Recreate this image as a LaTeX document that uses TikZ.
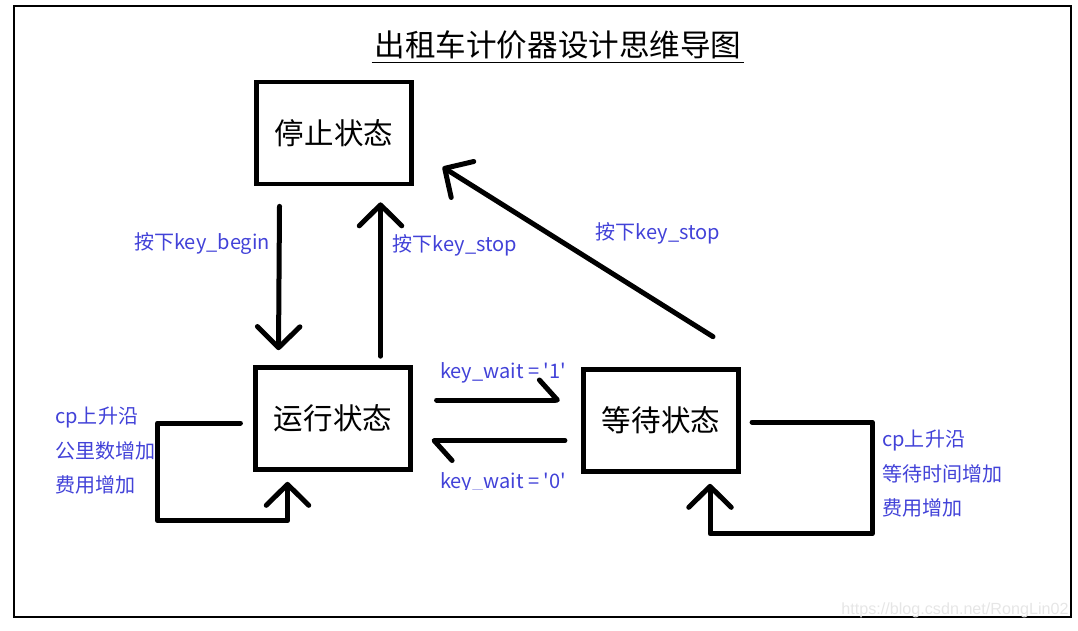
\documentclass[tikz,border=0pt]{standalone}
\usepackage{fontspec}
\setmainfont{Noto Sans CJK SC}
\newfontfamily\markfont{Liberation Sans}
\usetikzlibrary{arrows.meta}
\definecolor{labelblue}{RGB}{66,66,216}
\definecolor{markgray}{RGB}{230,230,230}
\tikzset{
	statebox/.style={draw, line width=0.094cm, minimum width=3.09cm, minimum height=2.04cm, inner sep=0pt, font=\fontsize{16.8}{18}\selectfont},
	pen/.style={line width=0.1cm, line cap=round, line join=round},
	tip/.style={-{Straight Barb[round, length=0.42cm, width=0.85cm]}},
	halftip/.style={-{Straight Barb[round, left, length=0.36cm, width=0.8cm]}},
	lbl/.style={text=labelblue, inner sep=0pt, font=\fontsize{11.4}{19.6}\selectfont}
}
\begin{document}
	\begin{tikzpicture}[x=0.02cm, y=-0.02cm]
		\useasboundingbox (0,0) rectangle (1078,630);
		\draw[line width=0.6pt] (14,6) rectangle (1071,617);
		\node[inner sep=1.5pt, font=\fontsize{17.4}{19}\selectfont] (title) at (558,45) {出租车计价器设计思维导图};
		\draw[line width=0.7pt] (title.south west) -- (title.south east);
		\node[statebox] (stop) at (334,133) {停止状态};
		\node[statebox] (run) at (333,418.5) {运行状态};
		\node[statebox] (wait) at (661,420.5) {等待状态};
		\draw[pen, tip] ([shift={(-54.5,20)}]stop.south) -- ([shift={(-54.5,-15)}]run.north);
		\draw[pen, tip] ([shift={(47.5,-9)}]run.north) -- ([shift={(46.5,16)}]stop.south);
		\draw[pen, tip] ([shift={(52,-30.5)}]wait.north) -- ([shift={(29,34)}]stop.east);
		\draw[pen, halftip] ([shift={(24,-18.5)}]run.east) -- ([shift={(-21.5,-20.5)}]wait.west);
		\draw[pen, halftip] ([shift={(-16.5,20)}]wait.west) -- ([shift={(19,22)}]run.east);
		\draw[pen, tip] ([shift={(-13,4.5)}]run.west) -- ++(-83,0) |- ([shift={(-45.5,49)}]run.south) -- ([shift={(-45.5,10)}]run.south);
		\draw[pen, tip] ([shift={(11.5,1.5)}]wait.east) -- ++(120,0) |- ([shift={(49,60)}]wait.south) -- ([shift={(49,10)}]wait.south);
		\node[lbl] (lbegin) at (202,244) {按下key\_begin};
		\node[lbl] (lstopa) at (455,245) {按下key\_stop};
		\node[lbl] (lstopb) at (658,233) {按下key\_stop};
		\node[lbl] (lwaitone) at (503,373) {key\_wait = \textquotesingle1\textquotesingle};
		\begin{scope}
			\clip (400,465) rectangle (600,489);
			\node[lbl] (lwaitzero) at (503,482.5) {key\_wait = \textquotesingle0\textquotesingle};
		\end{scope}
		\node[lbl, anchor=west, align=left] (lrun) at (55,451) {cp上升沿\\公里数增加\\费用增加};
		\node[lbl, anchor=west, align=left] (lwait) at (882,474) {cp上升沿\\等待时间增加\\费用增加};
		\node[text=markgray, inner sep=0pt, anchor=south east, font=\markfont\fontsize{9.2}{11}\selectfont] (mark) at (1069,618) {https://blog.csdn.net/RongLin02};
	\end{tikzpicture}
\end{document}
